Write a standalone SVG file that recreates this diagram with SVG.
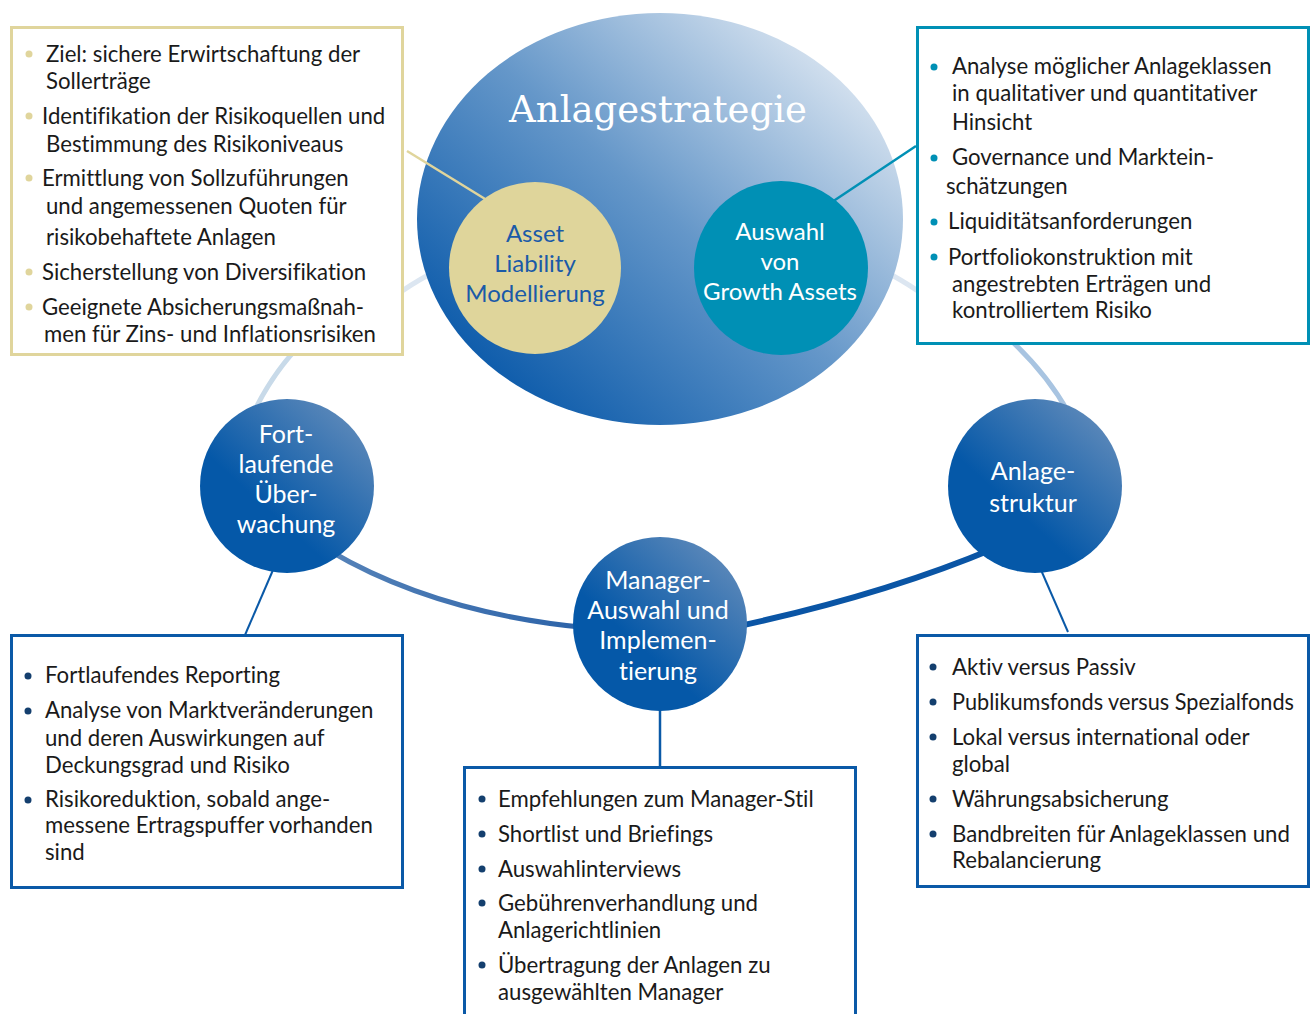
<svg xmlns="http://www.w3.org/2000/svg" width="1312" height="1014" viewBox="0 0 1312 1014">
<defs>
<linearGradient id="gBig" x1="0.1" y1="0.9" x2="0.95" y2="0.1">
<stop offset="0" stop-color="#0556a8"/>
<stop offset="0.5" stop-color="#6597c9"/>
<stop offset="1" stop-color="#e6edf5"/>
</linearGradient>
<linearGradient id="gNode" x1="0.85" y1="0.05" x2="0.35" y2="0.6">
<stop offset="0" stop-color="#5f8aba"/>
<stop offset="1" stop-color="#0558a8"/>
</linearGradient>
<linearGradient id="gLeftArc" x1="0" y1="0" x2="1" y2="0">
<stop offset="0" stop-color="#5582b8"/>
<stop offset="1" stop-color="#2b62a8"/>
</linearGradient>
</defs>
<style>
text{font-variant-ligatures:none;font-feature-settings:"liga" 0}
.t{font-family:Lato,"Open Sans","Liberation Sans",sans-serif;font-size:22.2px;fill:#1a1a1a}
.nl{font-family:Lato,"Open Sans","Liberation Sans",sans-serif;font-size:25px;fill:#ffffff;text-anchor:middle}
.bx{fill:#ffffff;stroke-width:3}
.tan{stroke:#e0d59c}
.teal{stroke:#0090b5}
.blue{stroke:#0a59a7}
.bt{fill:#e0d59c}
.bq{fill:#0090b5}
.bn{fill:#143f6e}
.arc{fill:none;stroke-linecap:butt}
</style>
<rect width="1312" height="1014" fill="#ffffff"/>
<g id="ring">
<path class="arc" d="M 305 340 Q 272 372 250 420" stroke="#c8dae9" stroke-width="5"/>
<path class="arc" d="M 395 296 Q 410 285 430 274" stroke="#dce6f1" stroke-width="5"/>
<path class="arc" d="M 890 274 Q 910 285 925 296" stroke="#dce6f1" stroke-width="5"/>
<path class="arc" d="M 1005 335 Q 1046 372 1068 412" stroke="#a8c4e1" stroke-width="5"/>
<path class="arc" d="M 330 551 Q 437 614 590 628" stroke="url(#gLeftArc)" stroke-width="5"/>
<path class="arc" d="M 730 628 Q 881 596 995 548" stroke="#0a55a5" stroke-width="6"/>
</g>
<g id="strategie">
<ellipse cx="660" cy="219" rx="243" ry="206" fill="url(#gBig)"/>
<text x="658" y="122" text-anchor="middle" font-family="'DejaVu Serif','Liberation Serif',serif" font-size="37" fill="#ffffff">Anlagestrategie</text>
</g>
<g id="connectors">
<line x1="407" y1="151" x2="490" y2="202" stroke="#e0d59c" stroke-width="2.5"/>
<line x1="916" y1="146" x2="832" y2="202" stroke="#0090b5" stroke-width="2.5"/>
<line x1="273" y1="570" x2="245" y2="635" stroke="#0a59a7" stroke-width="2"/>
<line x1="1041" y1="570" x2="1068" y2="632" stroke="#0a59a7" stroke-width="2"/>
<line x1="660" y1="708" x2="660" y2="768" stroke="#0a59a7" stroke-width="2.5"/>
</g>
<g id="asset-liability">
<circle cx="535" cy="268" r="86" fill="#dfd59b"/>
<text class="nl" style="fill:#1a5aa8;font-size:24px" x="535" y="242">Asset</text>
<text class="nl" style="fill:#1a5aa8;font-size:24px" x="535" y="272">Liability</text>
<text class="nl" style="fill:#1a5aa8;font-size:24px" x="535" y="302">Modellierung</text>
</g>
<g id="growth-assets">
<circle cx="781" cy="268" r="87" fill="#0090b5"/>
<text class="nl" style="font-size:24px" x="780" y="240">Auswahl</text>
<text class="nl" style="font-size:24px" x="780" y="270">von</text>
<text class="nl" style="font-size:24px" x="780" y="300">Growth Assets</text>
</g>
<g id="fortlaufende">
<circle cx="287" cy="486" r="87" fill="url(#gNode)"/>
<text class="nl" x="286" y="443">Fort-</text>
<text class="nl" x="286" y="473">laufende</text>
<text class="nl" x="286" y="503">Über-</text>
<text class="nl" x="286" y="533">wachung</text>
</g>
<g id="anlagestruktur">
<circle cx="1035" cy="486" r="87" fill="url(#gNode)"/>
<text class="nl" x="1033" y="480">Anlage-</text>
<text class="nl" x="1033" y="512">struktur</text>
</g>
<g id="manager">
<circle cx="660" cy="624" r="87" fill="url(#gNode)"/>
<text class="nl" x="658" y="589">Manager-</text>
<text class="nl" x="658" y="619">Auswahl und</text>
<text class="nl" x="658" y="649">Implemen-</text>
<text class="nl" x="658" y="680">tierung</text>
</g>
<g id="box-ziele">
<rect class="bx tan" x="11.5" y="27.5" width="391" height="327"/>
<circle class="bt" cx="29" cy="54" r="3.5"/>
<circle class="bt" cx="29" cy="116" r="3.5"/>
<circle class="bt" cx="29" cy="178" r="3.5"/>
<circle class="bt" cx="29" cy="272" r="3.5"/>
<circle class="bt" cx="29" cy="307" r="3.5"/>
<text class="t" x="46" y="62">Ziel: sichere Erwirtschaftung der</text>
<text class="t" x="46" y="89">Sollerträge</text>
<text class="t" x="42" y="124">Identifikation der Risikoquellen und</text>
<text class="t" x="46" y="152">Bestimmung des Risikoniveaus</text>
<text class="t" x="42" y="186">Ermittlung von Sollzuführungen</text>
<text class="t" x="46" y="214">und angemessenen Quoten für</text>
<text class="t" x="46" y="245">risikobehaftete Anlagen</text>
<text class="t" x="42" y="280">Sicherstellung von Diversifikation</text>
<text class="t" x="42" y="315">Geeignete Absicherungsmaßnah-</text>
<text class="t" x="44" y="342">men für Zins- und Inflationsrisiken</text>
</g>
<g id="box-analyse">
<rect class="bx teal" x="917.5" y="27.5" width="391" height="316"/>
<circle class="bq" cx="934" cy="67" r="3.5"/>
<circle class="bq" cx="934" cy="158" r="3.5"/>
<circle class="bq" cx="934" cy="222" r="3.5"/>
<circle class="bq" cx="934" cy="257" r="3.5"/>
<text class="t" x="952" y="74">Analyse möglicher Anlageklassen</text>
<text class="t" x="952" y="101">in qualitativer und quantitativer</text>
<text class="t" x="952" y="130">Hinsicht</text>
<text class="t" x="952" y="165">Governance und Marktein-</text>
<text class="t" x="946" y="194">schätzungen</text>
<text class="t" x="948" y="229">Liquiditätsanforderungen</text>
<text class="t" x="948" y="265">Portfoliokonstruktion mit</text>
<text class="t" x="952" y="292">angestrebten Erträgen und</text>
<text class="t" x="952" y="318">kontrolliertem Risiko</text>
</g>
<g id="box-reporting">
<rect class="bx blue" x="11.5" y="635.5" width="391" height="252"/>
<circle class="bn" cx="28" cy="676" r="3.5"/>
<circle class="bn" cx="28" cy="711" r="3.5"/>
<circle class="bn" cx="28" cy="800" r="3.5"/>
<text class="t" x="45" y="683">Fortlaufendes Reporting</text>
<text class="t" x="45" y="718">Analyse von Marktveränderungen</text>
<text class="t" x="45" y="746">und deren Auswirkungen auf</text>
<text class="t" x="45" y="773">Deckungsgrad und Risiko</text>
<text class="t" x="45" y="807">Risikoreduktion, sobald ange-</text>
<text class="t" x="45" y="833">messene Ertragspuffer vorhanden</text>
<text class="t" x="45" y="860">sind</text>
</g>
<g id="box-manager">
<rect class="bx blue" x="464.5" y="767.5" width="391" height="260"/>
<circle class="bn" cx="482" cy="799" r="3.5"/>
<circle class="bn" cx="482" cy="834" r="3.5"/>
<circle class="bn" cx="482" cy="869" r="3.5"/>
<circle class="bn" cx="482" cy="903" r="3.5"/>
<circle class="bn" cx="482" cy="965" r="3.5"/>
<text class="t" x="498" y="807">Empfehlungen zum Manager-Stil</text>
<text class="t" x="498" y="842">Shortlist und Briefings</text>
<text class="t" x="498" y="877">Auswahlinterviews</text>
<text class="t" x="498" y="911">Gebührenverhandlung und</text>
<text class="t" x="498" y="938">Anlagerichtlinien</text>
<text class="t" x="498" y="973">Übertragung der Anlagen zu</text>
<text class="t" x="498" y="1000">ausgewählten Manager</text>
</g>
<g id="box-struktur">
<rect class="bx blue" x="917.5" y="635.5" width="391" height="251"/>
<circle class="bn" cx="933" cy="667" r="3.5"/>
<circle class="bn" cx="933" cy="702" r="3.5"/>
<circle class="bn" cx="933" cy="737" r="3.5"/>
<circle class="bn" cx="933" cy="799" r="3.5"/>
<circle class="bn" cx="933" cy="834" r="3.5"/>
<text class="t" x="952" y="675">Aktiv versus Passiv</text>
<text class="t" x="952" y="710" textLength="342" lengthAdjust="spacingAndGlyphs">Publikumsfonds versus Spezialfonds</text>
<text class="t" x="952" y="745">Lokal versus international oder</text>
<text class="t" x="952" y="772">global</text>
<text class="t" x="952" y="807">Währungsabsicherung</text>
<text class="t" x="952" y="842">Bandbreiten für Anlageklassen und</text>
<text class="t" x="952" y="868">Rebalancierung</text>
</g>
</svg>
